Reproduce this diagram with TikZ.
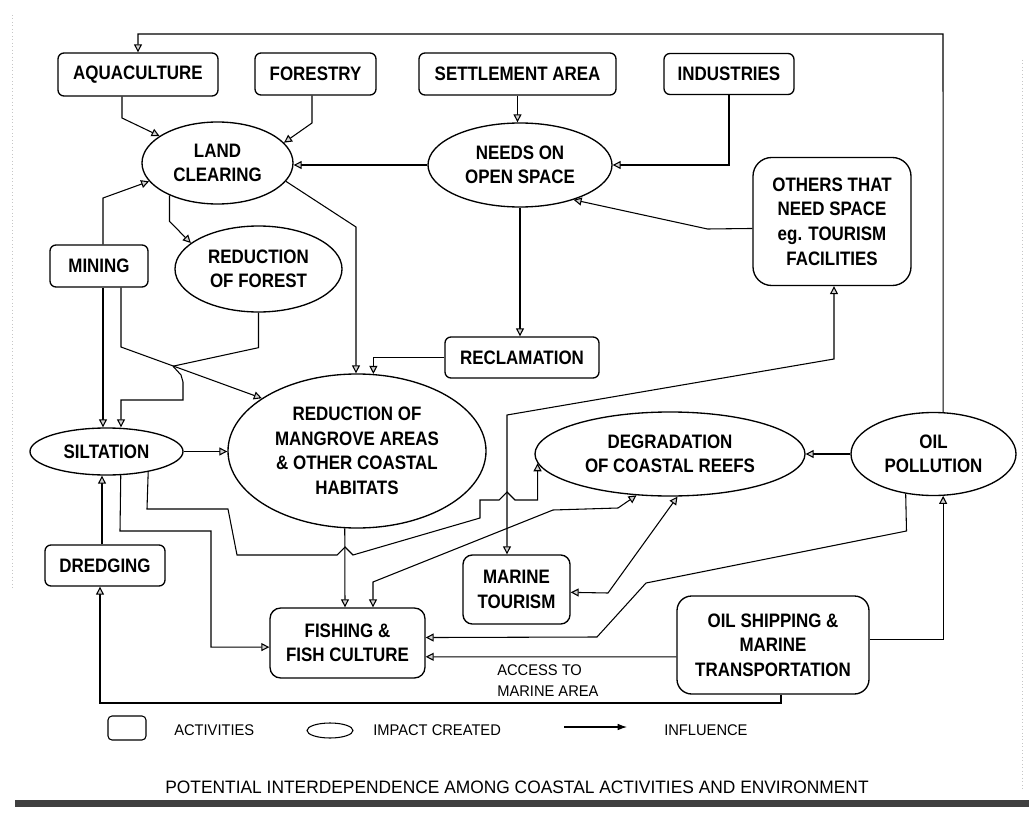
\documentclass[tikz,border=0pt]{standalone}
\usepackage{fontspec}
\setmainfont{Liberation Sans}
\newfontfamily\boxfont[FakeStretch=0.87]{Liberation Sans Bold}
\newfontfamily\notefont[FakeStretch=0.95]{Liberation Sans}
\newfontfamily\titlefont[FakeStretch=0.965]{Liberation Sans}
\usetikzlibrary{arrows.meta,shapes.geometric}
\newcommand{\pxu}{0.75pt}

\tikzset{
  act/.style={draw, rounded corners=4.5pt, line width=1pt, inner sep=0pt, align=center,
    font=\boxfont\fontsize{14.6}{18.4}\selectfont},
  imp/.style={draw, ellipse, line width=1pt, inner sep=0pt, align=center,
    font=\boxfont\fontsize{14.6}{18.4}\selectfont},
  tip/.tip={Triangle[length=6pt,width=6pt,fill=gray!35]},
  link/.style={line width=0.8pt, -tip},
  twoway/.style={line width=0.8pt, tip-tip},
  plain/.style={line width=0.8pt},
  note/.style={font=\notefont\fontsize{11.6}{15.75}\selectfont, align=left, inner sep=0pt}
}

\begin{document}
\begin{tikzpicture}[x=0.75pt,y=-0.75pt]
\useasboundingbox (0,0) rectangle (1029,817);
\fill[white] (0,0) rectangle (1029,817);

% faint page edges
\draw[gray!45, dotted, line width=0.6pt] (12,15) -- (12,590);
\draw[gray!45, dotted, line width=0.6pt] (1022,60) -- (1022,790);
\fill[black!75] (15,800) rectangle (1029,807);

% activities
\node[act, minimum width=160*\pxu, minimum height=43*\pxu] (aqua) at (138,74.5) {AQUACULTURE};
\node[act, minimum width=121*\pxu, minimum height=42*\pxu] (forestry) at (315.5,74) {FORESTRY};
\node[act, minimum width=197*\pxu, minimum height=42*\pxu] (settle) at (517.5,74) {SETTLEMENT AREA};
\node[act, minimum width=130*\pxu, minimum height=41*\pxu] (indus) at (729,74) {INDUSTRIES};
\node[act, minimum width=98*\pxu, minimum height=42*\pxu] (mining) at (99,266) {MINING};
\node[act, rounded corners=14pt, minimum width=158*\pxu, minimum height=128*\pxu] (others) at (832,221.5)
  {OTHERS THAT\\NEED SPACE\\eg. TOURISM\\FACILITIES};
\node[act, minimum width=154*\pxu, minimum height=41*\pxu] (reclam) at (522,357.5) {RECLAMATION};
\node[act, minimum width=120*\pxu, minimum height=41*\pxu] (dredg) at (105,565.5) {DREDGING};
\node[act, rounded corners=7pt, minimum width=107*\pxu, minimum height=69*\pxu] (mtour) at (516.5,589.5) {MARINE\\TOURISM};
\node[act, rounded corners=8pt, minimum width=155*\pxu, minimum height=70*\pxu] (fishing) at (347.5,643) {FISHING \&\\FISH CULTURE};
\node[act, rounded corners=11pt, minimum width=192*\pxu, minimum height=98*\pxu] (oilship) at (773,645)
  {OIL SHIPPING \&\\MARINE\\TRANSPORTATION};

% impacts
\node[imp, minimum width=151*\pxu, minimum height=82*\pxu] (landc) at (217.5,163) {LAND\\CLEARING};
\node[imp, minimum width=184*\pxu, minimum height=84*\pxu] (needs) at (520,165) {NEEDS ON\\OPEN SPACE};
\node[imp, minimum width=167*\pxu, minimum height=86*\pxu] (redfor) at (258.5,269) {REDUCTION\\OF FOREST};
\node[imp, minimum width=153*\pxu, minimum height=47*\pxu] (silt) at (106.5,451.5) {SILTATION};
\node[imp, minimum width=258*\pxu, minimum height=154*\pxu] (mangr) at (357,451)
  {REDUCTION OF\\MANGROVE AREAS\\\& OTHER COASTAL\\HABITATS};
\node[imp, minimum width=270*\pxu, minimum height=84*\pxu] (degr) at (670,454) {DEGRADATION\\OF COASTAL REEFS};
\node[imp, minimum width=165*\pxu, minimum height=83*\pxu] (oilp) at (933.5,454) {OIL\\POLLUTION};

% influences
\draw[link] (aqua.south -| 122,0) -- (122,118) -- (landc.155.2);
\draw[link] (forestry.south -| 312,0) -- (312,123) -- (landc.17.3);
\draw[link] (settle.south) -- (settle.south |- needs.north);
\draw[link] (indus.south) |- (needs.east);
\draw[link] (needs.west) -- (needs.west -| landc.east);
\draw[link] (others.185.4) -- (707.5,229) -- (needs.-33);
\draw[link] (landc.214) -- ++(0,26) -- (redfor.159.8);
\draw[link] (landc.-15.1) -- (356,227) -- (356,0 |- mangr.north);
\draw[link] (reclam.west) -| (mangr.78.2);
\draw[link] (needs.south) -- (needs.south |- reclam.north);
\draw[link] (mining.north -| 103,0) -- (103,198) -- (landc.195.1);
\draw[link] (mining.south -| 103,0) -- (103,0 |- silt.north);

\coordinate (jct) at (173,366.2);
\draw[link] (mining.south -| 121,0) -- (121,347) -- (mangr.151.35);
\draw[plain] (redfor.south) -- ++(0,35) -- (jct);
\draw[link] (jct) -- (181,375) -- (183,382) -- (183,400) -- (121,400) -- (121,0 |- silt.north);

\draw[link] (silt.east) -- (silt.east -| mangr.west);
\draw[link] (silt.-26.2) -- (147,509) -- (228,509) -- (237,555) -- (337,555) -- (345,547) -- (353,555)
  -- (480,518) -- (480,500) -- (499,500) -- (507,492) -- (515,500) -| (degr.184.4);
\draw[link] (silt.-59.7) -- (120,531) -- (211,531) |- (fishing.183);
\draw[link] (dredg.north -| 102,0) -- (102,0 |- silt.south);
\draw[link] (mangr.261.1) -- (345,0 |- fishing.north);

\draw[twoway] (fishing.north -| 373,0) -- (373,582) -- (553,510) -- (618,508) -- (degr.231.9);
\draw[twoway] (mtour.-3.7) -- (608,593) -- (degr.-80.5);
\draw[twoway] (mtour.north -| 507,0) -- (507,415) -- (834,359) -- (834,0 |- others.south);

\draw[link] (oilp.west) -- (degr.east);
\draw[link] (oilp.77) -- (943,34) -| (aqua.north);
\draw[link] (oilp.235.4) -- (906.5,531) -- (646,583) -- (597,637) -- (fishing.4.43);
\draw[link] (oilship.187.1) -- (fishing.-10.24);
\draw[link] (oilship.3.58) -| (oilp.-77);
\draw[link] (oilship.south -| 781,0) -- (781,703) -| (100,0 |- dredg.south);

\node[note, anchor=north west] (access) at (497,664.5) {ACCESS TO\\MARINE AREA};

% legend
\node[draw, rounded corners=3pt, line width=0.8pt, inner sep=0pt, minimum width=38*\pxu, minimum height=24*\pxu] (legact) at (127,728) {};
\node[note, anchor=west] (legacttxt) at (174,730) {ACTIVITIES};
\node[draw, ellipse, line width=0.8pt, inner sep=0pt, minimum width=46*\pxu, minimum height=15*\pxu] (legimp) at (330,730.5) {};
\node[note, anchor=west] (legimptxt) at (373,730) {IMPACT CREATED};
\coordinate (legA) at (564,727);
\coordinate (legB) at (627,727);
\draw[line width=0.8pt, -{Latex[length=7pt,width=5pt]}] (legA) -- (legB);
\node[note, anchor=west] (leginftxt) at (664,730) {INFLUENCE};

% caption
\node[font=\titlefont\fontsize{13.5}{16}\selectfont, inner sep=0pt] (title) at (517,787)
  {POTENTIAL INTERDEPENDENCE AMONG COASTAL ACTIVITIES AND ENVIRONMENT};
\end{tikzpicture}
\end{document}
